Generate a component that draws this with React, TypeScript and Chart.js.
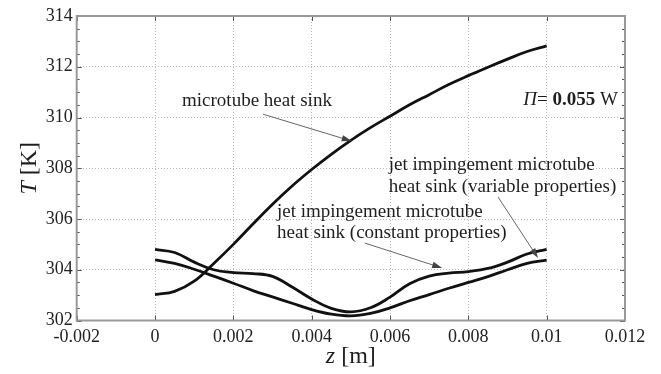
import React, { useEffect, useRef } from "react";
import { Chart, registerables } from "chart.js";

Chart.register(...registerables);

// ---- data ----
const zValues = [
  0, 0.0005, 0.001, 0.0015, 0.002, 0.0025, 0.003, 0.0035, 0.004, 0.0045, 0.005,
  0.0055, 0.006, 0.0065, 0.007, 0.0075, 0.008, 0.0085, 0.009, 0.0095, 0.01,
];
const microtubeT = [
  303.02, 303.15, 303.55, 304.25, 305.0, 305.8, 306.58, 307.3, 307.95, 308.55, 309.1,
  309.6, 310.05, 310.5, 310.9, 311.3, 311.65, 311.98, 312.3, 312.6, 312.82,
];
const jetConstantT = [
  304.8, 304.68, 304.3, 304.0, 303.89, 303.85, 303.74, 303.32, 302.85, 302.48, 302.34,
  302.5, 302.92, 303.45, 303.75, 303.87, 303.93, 304.05, 304.3, 304.62, 304.8,
];
const jetVariableT = [
  304.39, 304.25, 304.02, 303.75, 303.47, 303.18, 302.93, 302.68, 302.43, 302.25, 302.18,
  302.28, 302.5, 302.78, 303.02, 303.27, 303.5, 303.73, 304.0, 304.25, 304.38,
];
const xTickLabels = ["-0.002", "0", "0.002", "0.004", "0.006", "0.008", "0.01", "0.012"];
const yTickLabels = ["302", "304", "306", "308", "310", "312", "314"];

const SERIF = '"Liberation Serif", "Times New Roman", serif';

type Seg = { t: string; f: string };

function drawSegs(ctx: CanvasRenderingContext2D, segs: Seg[], x: number, y: number, align: "left" | "center" | "right") {
  let total = 0;
  for (const s of segs) {
    ctx.font = s.f;
    total += ctx.measureText(s.t).width;
  }
  let cx = align === "left" ? x : align === "center" ? x - total / 2 : x - total;
  ctx.textAlign = "left";
  for (const s of segs) {
    ctx.font = s.f;
    ctx.fillText(s.t, cx, y);
    cx += ctx.measureText(s.t).width;
  }
}

function arrow(ctx: CanvasRenderingContext2D, x1: number, y1: number, x2: number, y2: number) {
  const ang = Math.atan2(y2 - y1, x2 - x1);
  const len = 10;
  const w = 3.2;
  ctx.beginPath();
  ctx.moveTo(x1, y1);
  ctx.lineTo(x2 - Math.cos(ang) * len * 0.8, y2 - Math.sin(ang) * len * 0.8);
  ctx.stroke();
  ctx.beginPath();
  ctx.moveTo(x2, y2);
  ctx.lineTo(x2 - Math.cos(ang) * len - Math.sin(ang) * w, y2 - Math.sin(ang) * len + Math.cos(ang) * w);
  ctx.lineTo(x2 - Math.cos(ang) * len + Math.sin(ang) * w, y2 - Math.sin(ang) * len - Math.cos(ang) * w);
  ctx.closePath();
  ctx.fill();
}

const framePlugin = {
  id: "frame",
  beforeDatasetsDraw(chart: any) {
    const { ctx, chartArea: a, scales } = chart;
    const xs = scales.x;
    const ys = scales.y;
    ctx.save();
    ctx.strokeStyle = "#555";
    ctx.lineWidth = 1;
    for (const t of xs.ticks) {
      const p = Math.round(xs.getPixelForValue(t.value)) + 0.5;
      ctx.beginPath();
      ctx.moveTo(p, a.bottom);
      ctx.lineTo(p, a.bottom - 5);
      ctx.moveTo(p, a.top);
      ctx.lineTo(p, a.top + 5);
      ctx.stroke();
    }
    for (let v = 302; v <= 314.001; v += 0.5) {
      const p = Math.round(ys.getPixelForValue(v)) + 0.5;
      const L = Math.abs(v - Math.round(v / 2) * 2) < 1e-6 ? 5 : 3;
      ctx.beginPath();
      ctx.moveTo(a.left, p);
      ctx.lineTo(a.left + L, p);
      ctx.moveTo(a.right, p);
      ctx.lineTo(a.right - L, p);
      ctx.stroke();
    }
    ctx.strokeStyle = "#999";
    ctx.lineWidth = 2;
    ctx.strokeRect(a.left, a.top, a.right - a.left, a.bottom - a.top);
    ctx.restore();
  },
  afterDraw(chart: any) {
    const { ctx, scales } = chart;
    const xs = scales.x;
    const ys = scales.y;
    const px = (v: number) => xs.getPixelForValue(v);
    const py = (v: number) => ys.getPixelForValue(v);
    ctx.save();
    ctx.fillStyle = "#1e1e1e";
    ctx.textBaseline = "middle";
    const F = `19px ${SERIF}`;
    const FI = `italic 19px ${SERIF}`;
    const FB = `bold 19px ${SERIF}`;
    drawSegs(ctx, [{ t: "microtube heat sink", f: F }], px(0.00069), py(310.65), "left");
    drawSegs(
      ctx,
      [
        { t: "\u03A0", f: FI },
        { t: "= ", f: F },
        { t: "0.055", f: FB },
        { t: " W", f: F },
      ],
      px(0.01182),
      py(310.69),
      "right"
    );
    drawSegs(ctx, [{ t: "jet impingement microtube", f: F }], px(0.00597), py(308.13), "left");
    drawSegs(ctx, [{ t: "heat sink (variable properties)", f: F }], px(0.00597), py(307.26), "left");
    drawSegs(ctx, [{ t: "jet impingement microtube", f: F }], px(0.003115), py(306.28), "left");
    drawSegs(ctx, [{ t: "heat sink (constant properties)", f: F }], px(0.003115), py(305.43), "left");

    ctx.strokeStyle = "#666";
    ctx.fillStyle = "#444";
    ctx.lineWidth = 1;
    arrow(ctx, px(0.002757), py(310.13), px(0.005022), py(309.07));
    arrow(ctx, px(0.00536), py(305.05), px(0.00733), py(304.07));
    arrow(ctx, px(0.008757), py(306.87), px(0.00978), py(304.46));

    ctx.fillStyle = "#1e1e1e";
    const TF = `24px ${SERIF}`;
    const TFI = `italic 24px ${SERIF}`;
    drawSegs(
      ctx,
      [
        { t: "z", f: TFI },
        { t: " [m]", f: TF },
      ],
      (chart.chartArea.left + chart.chartArea.right) / 2,
      357,
      "center"
    );
    ctx.save();
    ctx.translate(30, (chart.chartArea.top + chart.chartArea.bottom) / 2);
    ctx.rotate(-Math.PI / 2);
    drawSegs(
      ctx,
      [
        { t: "T", f: TFI },
        { t: " [K]", f: TF },
      ],
      0,
      0,
      "center"
    );
    ctx.restore();
    ctx.restore();
  },
};

export default function App() {
  const ref = useRef<HTMLCanvasElement | null>(null);
  useEffect(() => {
    if (!ref.current) return;
    const mk = (vals: number[]) => zValues.map((z, i) => ({ x: z, y: vals[i] }));
    const ds = (label: string, vals: number[]) => ({
      label,
      data: mk(vals),
      borderColor: "#111",
      borderWidth: 2.8,
      pointRadius: 0,
      fill: false,
      tension: 0.4,
    });
    const chart = new Chart(ref.current, {
      type: "line",
      data: {
        datasets: [
          ds("microtube heat sink", microtubeT),
          ds("jet impingement microtube heat sink (constant properties)", jetConstantT),
          ds("jet impingement microtube heat sink (variable properties)", jetVariableT),
        ],
      },
      options: {
        responsive: false,
        animation: false,
        events: [],
        layout: { padding: { top: 16, right: 36, left: 0, bottom: 0 } },
        plugins: { legend: { display: false }, tooltip: { enabled: false } },
        scales: {
          x: {
            type: "linear",
            min: -0.002,
            max: 0.012,
            afterBuildTicks: (s: any) => {
              s.ticks = xTickLabels.map((_, i) => ({ value: -0.002 + i * 0.002 }));
            },
            afterFit: (s: any) => {
              s.height = 53.5;
            },
            ticks: {
              callback: (_v: any, i: number) => xTickLabels[i],
              font: { family: SERIF, size: 18 },
              color: "#222",
              padding: 6,
              maxRotation: 0,
              autoSkip: false,
            },
            grid: { color: "#b8b8b8", lineWidth: 1, drawTicks: false },
            border: { display: false, dash: [1, 2] },
          },
          y: {
            type: "linear",
            min: 302,
            max: 314,
            afterBuildTicks: (s: any) => {
              s.ticks = yTickLabels.map((l) => ({ value: Number(l) }));
            },
            afterFit: (s: any) => {
              s.width = 76.7;
            },
            ticks: {
              callback: (_v: any, i: number) => yTickLabels[i],
              font: { family: SERIF, size: 18 },
              color: "#222",
              padding: 4,
              autoSkip: false,
            },
            grid: { color: "#b8b8b8", lineWidth: 1, drawTicks: false },
            border: { display: false, dash: [1, 2] },
          },
        },
      },
      plugins: [framePlugin],
    });
    return () => chart.destroy();
  }, []);
  return (
    <div style={{ position: "fixed", left: 0, top: 0, width: 661, height: 374, background: "#fff" }}>
      <canvas ref={ref} width={661} height={374} style={{ display: "block" }} />
    </div>
  );
}
